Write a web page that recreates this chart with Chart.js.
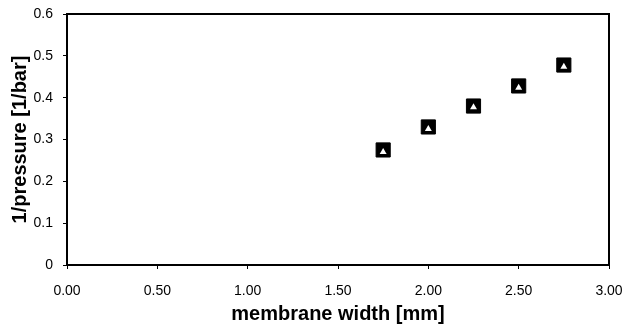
<!DOCTYPE html>
<html>
<head>
<meta charset="utf-8">
<script src="https://cdn.jsdelivr.net/npm/chart.js@4"></script>
<style>
  html, body { margin: 0; padding: 0; background: #fff; }
  #wrap { width: 634px; height: 328px; }
</style>
</head>
<body>
<div id="wrap"><canvas id="chart" width="634" height="328"></canvas></div>
<script>
// membrane width [mm]
const widths = [1.75, 2.00, 2.25, 2.50, 2.75];
// 1/pressure [1/bar], two overlapping series
const squareValues = [0.275, 0.330, 0.380, 0.428, 0.478];
const triangleValues = [0.270, 0.325, 0.377, 0.424, 0.474];
const xTicks = [0, 0.5, 1, 1.5, 2, 2.5, 3];
const yTicks = [0, 0.1, 0.2, 0.3, 0.4, 0.5, 0.6];

const font = 'Liberation Sans, Arial, sans-serif';

// frame round the plot area
const frame = {
    id: 'frame',
    afterDraw(chart) {
        const { ctx, chartArea: a } = chart;
        ctx.save();
        ctx.strokeStyle = '#000';
        ctx.lineWidth = 2;
        ctx.strokeRect(a.left, a.top, a.right - a.left, a.bottom - a.top);
        ctx.restore();
    }
};

const ctx = document.getElementById('chart').getContext('2d');
new Chart(ctx, {
    type: 'scatter',
    data: {
        datasets: [{
            label: 'square',
            data: widths.map((w, i) => ({ x: w, y: squareValues[i] })),
            order: 1,
            pointStyle: 'rect',
            pointRadius: 10,
            backgroundColor: '#000',
            borderColor: '#000',
            borderWidth: 1
        }, {
            label: 'triangle',
            data: widths.map((w, i) => ({ x: w, y: triangleValues[i] })),
            order: 0,
            pointStyle: 'triangle',
            pointRadius: 4,
            backgroundColor: '#fff',
            borderColor: '#fff',
            borderWidth: 0
        }]
    },
    options: {
        responsive: false,
        animation: false,
        layout: { padding: { left: 0, right: 25, top: 14, bottom: 0 } },
        plugins: { legend: { display: false }, tooltip: { enabled: false } },
        scales: {
            x: {
                type: 'linear',
                min: 0,
                max: 3,
                afterBuildTicks: s => { s.ticks = xTicks.map(v => ({ value: v })); },
                afterFit: s => {
                    s.height = 63;
                    s.paddingLeft = 0;
                    s.paddingRight = 0;
                },
                grid: { drawOnChartArea: false, color: '#000', tickLength: 4 },
                border: { color: '#000', width: 2 },
                ticks: {
                    color: '#000',
                    font: { family: font, size: 14 },
                    padding: 14,
                    maxRotation: 0,
                    callback: v => v.toFixed(2)
                },
                title: {
                    display: true,
                    text: 'membrane width [mm]',
                    color: '#000',
                    font: { family: font, size: 20, weight: 'bold' },
                    padding: { top: 0, bottom: 2 }
                }
            },
            y: {
                min: 0,
                max: 0.6,
                afterBuildTicks: s => { s.ticks = yTicks.map(v => ({ value: v })); },
                afterFit: s => {
                    s.width = 67;
                    s.paddingTop = 0;
                    s.paddingBottom = 0;
                },
                grid: { drawOnChartArea: false, color: '#000', tickLength: 4 },
                border: { color: '#000', width: 2 },
                ticks: {
                    color: '#000',
                    font: { family: font, size: 14 },
                    padding: 10,
                    callback: v => v === 0 ? '0' : String(Math.round(v * 10) / 10)
                },
                title: {
                    display: true,
                    text: '1/pressure [1/bar]',
                    color: '#000',
                    font: { family: font, size: 20, weight: 'bold' },
                    padding: { top: 8, bottom: 0 }
                }
            }
        }
    },
    plugins: [frame]
});
</script>
</body>
</html>
